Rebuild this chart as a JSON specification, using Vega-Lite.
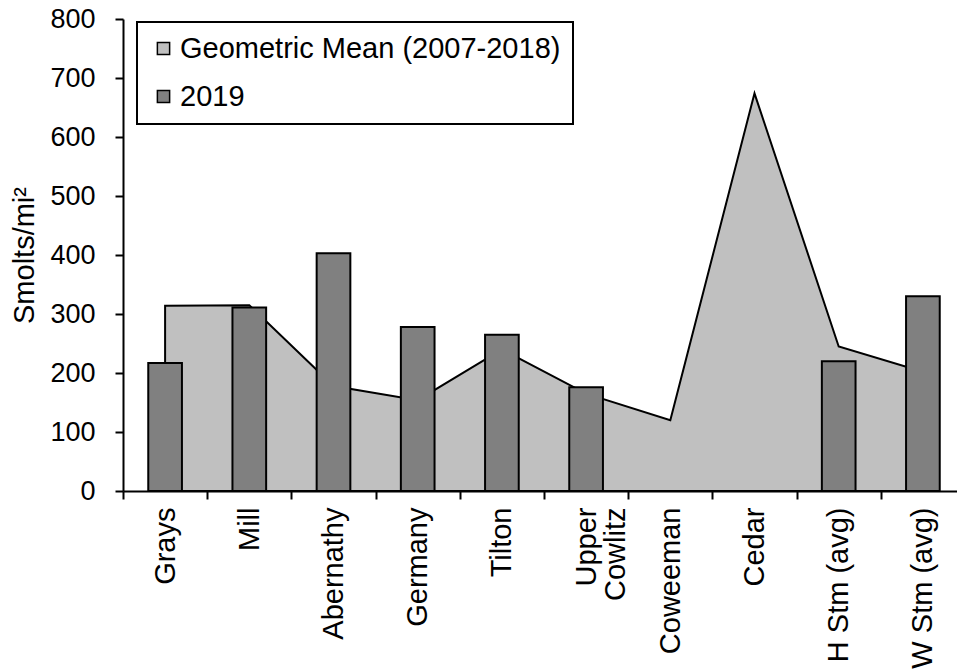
{
  "$schema": "https://vega.github.io/schema/vega-lite/v6.json",
  "autosize": {"type": "none"},
  "padding": {"left": 123, "top": 19, "right": 0, "bottom": 180},
  "width": 834,
  "height": 472,
  "config": {
    "font": "Liberation Sans",
    "view": {"stroke": null},
    "axis": {"grid": false, "domainColor": "black", "domainWidth": 2, "tickColor": "black", "tickWidth": 2, "tickSize": 8, "labelColor": "black", "titleColor": "black"}
  },
  "data": {
    "values": [
      {"site": "Grays", "gm": 314, "yr": 217},
      {"site": "Mill", "gm": 315, "yr": 311},
      {"site": "Abernathy", "gm": 178, "yr": 403},
      {"site": "Germany", "gm": 154, "yr": 278},
      {"site": "Tilton", "gm": 240, "yr": 265},
      {"site": "Upper Cowlitz", "gm": 165, "yr": 176},
      {"site": "Coweeman", "gm": 120, "yr": null},
      {"site": "Cedar", "gm": 674, "yr": null},
      {"site": "H Stm (avg)", "gm": 245, "yr": 220},
      {"site": "W Stm (avg)", "gm": 202, "yr": 330}
    ]
  },
  "transform": [{"fold": ["gm", "yr"], "as": ["series", "val"]}],
  "encoding": {
    "x": {
      "field": "site", "type": "nominal", "sort": null,
      "scale": {"type": "band", "range": [0, 842], "paddingInner": 0, "paddingOuter": 0},
      "axis": {
        "title": null, "labelAngle": -90, "labelFontSize": 29, "labelPadding": 8,
        "tickBand": "extent", "labelLimit": 0, "labelOverlap": false, "labelLineHeight": 29,
        "labelExpr": "datum.value == 'Upper Cowlitz' ? ['Upper', 'Cowlitz'] : datum.label"
      }
    },
    "y": {
      "field": "val", "type": "quantitative",
      "scale": {"domain": [0, 800], "nice": false},
      "axis": {"title": "Smolts/mi²", "titleFontSize": 29, "titleFontWeight": "normal", "titlePadding": 10, "labelFontSize": 27, "labelPadding": 20, "values": [0, 100, 200, 300, 400, 500, 600, 700, 800]}
    },
    "color": {
      "field": "series", "type": "nominal",
      "scale": {"domain": ["gm", "yr"], "range": ["#c0c0c0", "#808080"]},
      "legend": {
        "title": null, "orient": "none", "legendX": 14, "legendY": 3,
        "labelExpr": "datum.value == 'gm' ? 'Geometric Mean (2007-2018)' : '2019'",
        "strokeColor": "black", "fillColor": "white", "padding": 12,
        "labelFontSize": 29, "labelColor": "black", "labelLimit": 0, "labelOffset": 2,
        "symbolType": "square", "symbolSize": 144, "symbolStrokeColor": "black", "symbolStrokeWidth": 1.5,
        "rowPadding": 18,
        "encode": {
          "legend": {"update": {"strokeWidth": {"value": 2}}},
          "symbols": {"update": {"size": {"value": 150}}}
        }
      }
    }
  },
  "layer": [
    {
      "transform": [{"filter": "datum.series == 'gm'"}],
      "mark": {"type": "area", "stroke": "black", "strokeWidth": 2, "fillOpacity": 1}
    },
    {
      "transform": [{"filter": "datum.series == 'yr' && isValid(datum.val)"}],
      "mark": {"type": "bar", "stroke": "black", "strokeWidth": 2, "width": {"band": 0.4}}
    }
  ]
}
